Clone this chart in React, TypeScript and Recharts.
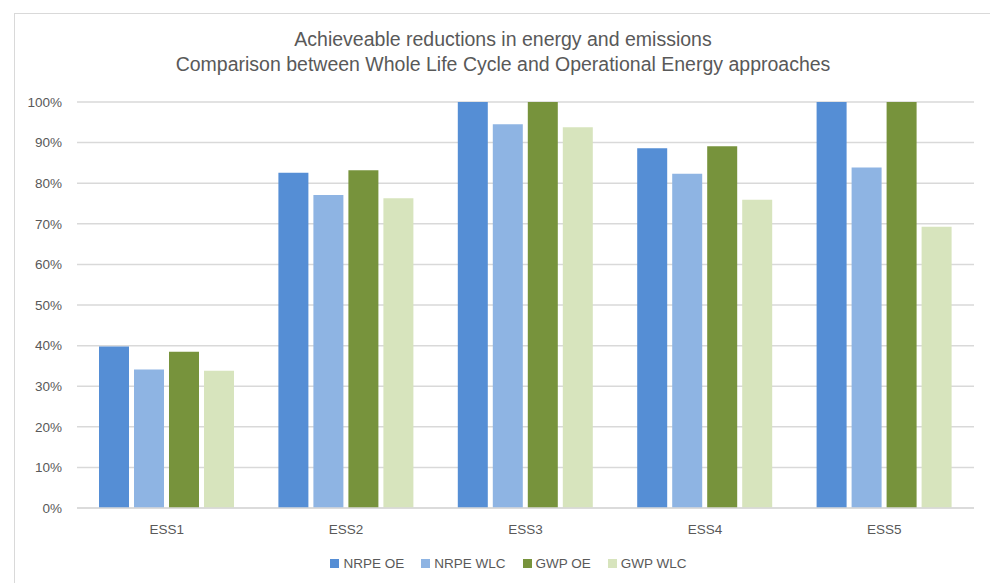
import { BarChart, Bar, XAxis, YAxis, CartesianGrid, Legend } from 'recharts';

const categories = ['ESS1', 'ESS2', 'ESS3', 'ESS4', 'ESS5'];
const nrpeOE = [39.8, 82.6, 100, 88.6, 100];
const nrpeWLC = [34.1, 77.1, 94.5, 82.3, 83.9];
const gwpOE = [38.5, 83.2, 100, 89.1, 100];
const gwpWLC = [33.8, 76.3, 93.8, 75.9, 69.3];
const yTicks = [0, 10, 20, 30, 40, 50, 60, 70, 80, 90, 100];

const series = [
    { key: 'NRPE OE', color: '#558ED5' },
    { key: 'NRPE WLC', color: '#8EB4E3' },
    { key: 'GWP OE', color: '#77933C' },
    { key: 'GWP WLC', color: '#D7E4BD' },
];

const data = categories.map((name, i) => ({
    name,
    'NRPE OE': nrpeOE[i],
    'NRPE WLC': nrpeWLC[i],
    'GWP OE': gwpOE[i],
    'GWP WLC': gwpWLC[i],
}));

const font = '"Liberation Sans", Arial, sans-serif';
const textColor = '#595959';

// legend kept in series order (recharts 3 sorts by name otherwise)
function LegendContent() {
    return (
        <ul style={{ margin: 0, padding: 0, textAlign: 'center', listStyle: 'none' }}>
            {series.map((s, i) => (
                <li
                    key={s.key}
                    style={{
                        display: 'inline-block',
                        marginRight: i < series.length - 1 ? 17 : 0,
                        color: textColor,
                    }}
                >
                    <svg width={9} height={9} style={{ marginRight: 4, verticalAlign: 'middle' }}>
                        <rect width={9} height={9} fill={s.color} />
                    </svg>
                    <span style={{ verticalAlign: 'middle' }}>{s.key}</span>
                </li>
            ))}
        </ul>
    );
}

export default function App() {
    return (
        <div
            style={{
                position: 'absolute',
                left: 0,
                top: 0,
                width: 990,
                height: 583,
                overflow: 'hidden',
                background: '#fff',
                fontFamily: font,
            }}
        >
            {/* chart frame, only top and left edges are visible */}
            <div
                style={{
                    position: 'absolute',
                    left: 14,
                    top: 13,
                    width: 990,
                    height: 600,
                    borderTop: '1px solid #d9d9d9',
                    borderLeft: '1px solid #d9d9d9',
                }}
            />
            <div
                style={{
                    position: 'absolute',
                    left: 0,
                    top: 27,
                    width: 1006,
                    textAlign: 'center',
                    color: textColor,
                    fontSize: 19.5,
                    lineHeight: '25px',
                }}
            >
                <div>Achieveable reductions in energy and emissions</div>
                <div>Comparison between Whole Life Cycle and Operational Energy approaches</div>
            </div>
            <div style={{ position: 'absolute', left: 0, top: 0 }}>
                <BarChart
                    width={990}
                    height={583}
                    data={data}
                    margin={{ top: 102, right: 16, bottom: 29, left: 17 }}
                    barSize={30}
                    barGap={5}
                >
                    <CartesianGrid vertical={false} stroke="#d9d9d9" strokeWidth={1.5} />
                    <XAxis
                        dataKey="name"
                        axisLine={{ stroke: '#d9d9d9', strokeWidth: 1.5 }}
                        tickLine={false}
                        tick={{ fill: textColor, fontSize: 13.5, fontFamily: font }}
                        tickMargin={10}
                    />
                    <YAxis
                        width={60}
                        domain={[0, 100]}
                        ticks={yTicks}
                        tickFormatter={(v) => `${v}%`}
                        axisLine={false}
                        tickLine={false}
                        tickSize={0}
                        tickMargin={15}
                        tick={{ fill: textColor, fontSize: 13.5, fontFamily: font }}
                    />
                    <Legend
                        verticalAlign="bottom"
                        content={LegendContent}
                        wrapperStyle={{ fontSize: 13.5, fontFamily: font, bottom: 12, left: 30 }}
                    />
                    {series.map((s) => (
                        <Bar
                            key={s.key}
                            dataKey={s.key}
                            fill={s.color}
                            isAnimationActive={false}
                        />
                    ))}
                </BarChart>
            </div>
        </div>
    );
}
